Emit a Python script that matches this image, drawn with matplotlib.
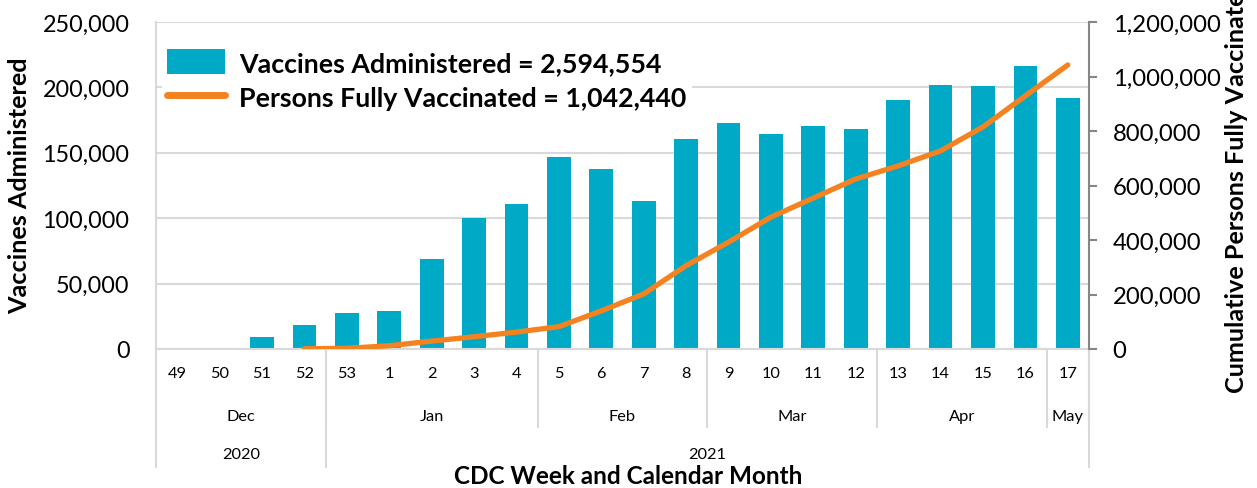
import matplotlib
matplotlib.use('Agg')
import matplotlib.pyplot as plt
from matplotlib.lines import Line2D
from matplotlib.transforms import blended_transform_factory
from matplotlib.ticker import FuncFormatter, MultipleLocator
import numpy as np

# ---------------- data ----------------
weeks = ['49', '50', '51', '52', '53', '1', '2', '3', '4', '5', '6', '7', '8',
         '9', '10', '11', '12', '13', '14', '15', '16', '17']
vaccines = [0, 0, 9000, 18300, 27500, 29000, 68800, 100200, 110900, 146800,
            137600, 113000, 160600, 172800, 164400, 170500, 168500, 190400,
            201800, 201000, 216400, 191900]
fully_vaccinated = [None, None, None, 1000, 2500, 12000, 29000, 45000, 62000,
                    82000, 140000, 202000, 306000, 392000, 484000, 554000,
                    624000, 672000, 727000, 815000, 929000, 1042440]
months = ['Dec', 'Jan', 'Feb', 'Mar', 'Apr', 'May']
month_counts = [4, 5, 4, 4, 4, 1]
years = ['2020', '2021']
year_counts = [4, 18]
legend_labels = ['Vaccines Administered = 2,594,554',
                 'Persons Fully Vaccinated = 1,042,440']

BAR = '#00A9C6'
ORANGE = '#F58220'
GRID = '#D9D9D9'
RAXIS = '#868686'
FONT = 'Lato'

plt.rcParams['font.family'] = [FONT, 'DejaVu Sans']

W, H = 1257, 489
fig = plt.figure(figsize=(W / 100, H / 100), dpi=100)
L, R, T, B = 156, 1089, 23, 350
ax = fig.add_axes([L / W, 1 - B / H, (R - L) / W, (B - T) / H])
ax2 = ax.twinx()

x = np.arange(len(weeks))
bars = ax.bar(x, vaccines, width=0.56, color=BAR, zorder=2)
yv = np.array([np.nan if v is None else v for v in fully_vaccinated], float)
line, = ax2.plot(x, yv, color=ORANGE, lw=3.8, solid_capstyle='round', zorder=3)

ax.set_xlim(-0.5, len(weeks) - 0.5)
ax.set_ylim(0, 250000)
ax2.set_ylim(0, 1200000)
ax.yaxis.set_major_locator(MultipleLocator(50000))
ax2.yaxis.set_major_locator(MultipleLocator(200000))
fmt = FuncFormatter(lambda v, p: f'{int(v):,}')
ax.yaxis.set_major_formatter(fmt)
ax2.yaxis.set_major_formatter(fmt)

ax.grid(axis='y', color=GRID, lw=1.5, zorder=0)
ax.set_axisbelow(True)
for s in ['top', 'right']:
    ax.spines[s].set_visible(False)
for s in ['top', 'left', 'bottom']:
    ax2.spines[s].set_visible(False)
ax.spines['left'].set_color(GRID)
ax.spines['left'].set_linewidth(1.5)
ax.spines['bottom'].set_color(GRID)
ax.spines['bottom'].set_linewidth(1.5)
ax2.spines['right'].set_color(RAXIS)
ax2.spines['right'].set_linewidth(1.5)

ax.tick_params(axis='y', length=0, pad=19, labelsize=16.8, labelcolor='black')
ax2.tick_params(axis='y', length=6, width=1.5, color=RAXIS, direction='out',
                pad=11, labelsize=17.2, labelcolor='black')
ax.set_xticks(x)
ax.set_xticklabels(weeks)
ax.tick_params(axis='x', length=0, pad=12, labelsize=11.8)

# multi-level category axis
bt = blended_transform_factory(ax.transData, fig.transFigure)
def fy(py):
    return 1 - py / H

def vline(xd, y0, y1):
    ax.add_line(Line2D([xd, xd], [fy(y0), fy(y1)], transform=bt, color=GRID,
                       lw=1.5, clip_on=False))

start = -0.5
for name, n in zip(months, month_counts):
    end = start + n
    ax.text((start + end) / 2, fy(417), name, transform=bt, ha='center',
            va='center', fontsize=11.8)
    vline(end, B, 428)
    start = end
start = -0.5
vline(start, B, 468)
for name, n in zip(years, year_counts):
    end = start + n
    ax.text((start + end) / 2, fy(455), name, transform=bt, ha='center',
            va='center', fontsize=11.8)
    vline(end, B, 468)
    start = end

fig.text(628 / W, fy(477), 'CDC Week and Calendar Month', ha='center',
         va='center', fontsize=17.5, fontweight='bold')
fig.text(20 / W, fy(186), 'Vaccines Administered', rotation=90, ha='center',
         va='center', fontsize=18.2, fontweight='bold')
fig.text(1236 / W, fy(186), 'Cumulative Persons Fully Vaccinated', rotation=90,
         ha='center', va='center', fontsize=18.2, fontweight='bold')

leg = ax.legend([bars, line], legend_labels, loc='upper left',
                bbox_to_anchor=(6 / (R - L), 1 - 22 / (B - T)),
                prop={'family': [FONT, 'DejaVu Sans'], 'weight': 'bold', 'size': 19.3},
                frameon=True, facecolor='white', edgecolor='none', framealpha=1,
                fancybox=False, handlelength=2.15, handleheight=1.05,
                handletextpad=0.52, labelspacing=0.34, borderpad=0.2,
                borderaxespad=0)
leg.set_zorder(5)
for h in leg.legend_handles:
    if isinstance(h, Line2D):
        h.set_linewidth(5)

fig.savefig('out.png', dpi=100)
